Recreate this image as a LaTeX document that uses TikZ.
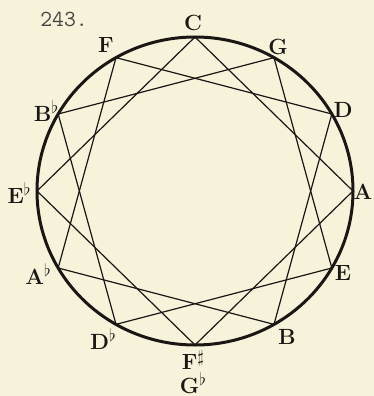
\documentclass[tikz,border=0pt]{standalone}
\usepackage{amssymb}
\usepackage{fontspec}
\usetikzlibrary{calc}
\newcommand{\flt}{{\fontsize{18}{18}\selectfont\raisebox{.42em}{$\flat$}}}
\newcommand{\shp}{{\fontsize{17}{17}\selectfont\raisebox{.45em}{$\sharp$}}}
\begin{document}
\begin{tikzpicture}[x=1pt,y=-1pt,
  lab/.style={font=\fontsize{22}{22}\selectfont\bfseries, text=ink, inner sep=0pt},
  rim/.style={line width=3pt, draw=ink},
  chord/.style={line width=1.2pt, draw=ink}]
\definecolor{paper}{RGB}{247,243,218}
\definecolor{ink}{RGB}{25,22,20}
\fill[paper] (0,0) rectangle (374,396);
\useasboundingbox (0,0) rectangle (374,396);
\coordinate (O) at (195,191);
\draw[rim] (O) ellipse [x radius=158, y radius=154];
% points on the circle (y axis points down, so angles are negated)
\foreach \n/\a in {C/90,G/60,D/30,A/0,E/-30,B/-60,Fs/-90,Db/-120,Ab/-150,Eb/180,Bb/150,F/120}{
  \coordinate (p\n) at ($(O)+({158*cos(\a)},{-154*sin(\a)})$);
}
% three squares
\draw[chord] (pC) -- (pA) -- (pFs) -- (pEb) -- cycle;
\draw[chord] (pG) -- (pE) -- (pDb) -- (pBb) -- cycle;
\draw[chord] (pD) -- (pB) -- (pAb) -- (pF) -- cycle;
% labels
\node[lab] (lC) at (193,23) {C};
\node[lab] (lG) at (278,47) {G};
\node[lab] (lD) at (343,110) {D};
\node[lab] (lA) at (363,192) {A};
\node[lab] (lE) at (343,273) {E};
\node[lab] (lB) at (287,337) {B};
\node[lab] (lFs) at (193,360) {F\shp};
\node[lab] (lGb) at (193,383) {G\flt};
\node[lab] (lDb) at (103,339) {D\flt};
\node[lab] (lAb) at (38,274) {A\flt};
\node[lab] (lEb) at (19,193) {E\flt};
\node[lab] (lBb) at (46,111) {B\flt};
\node[lab] (lF) at (106,45) {F};
\node[font=\fontsize{23}{23}\selectfont\ttfamily, text=ink!80, inner sep=0pt] (num) at (64,19) {243.};
\end{tikzpicture}
\end{document}
